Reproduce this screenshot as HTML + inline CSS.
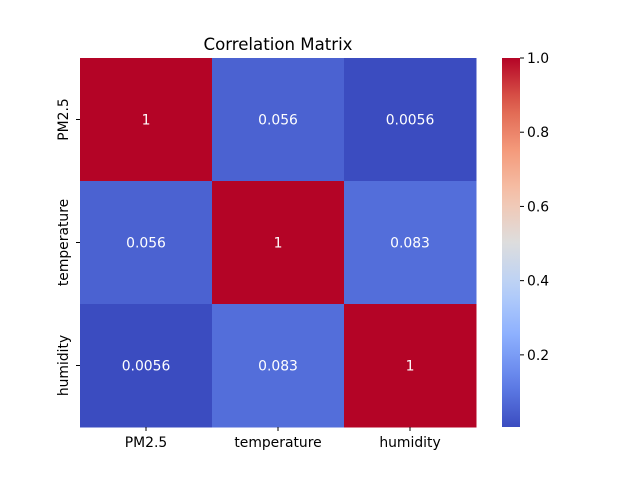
<!DOCTYPE html>
<html><head><meta charset="utf-8"><style>
body{margin:0;background:#fff;}
text{font-family:"DejaVu Sans","Liberation Sans",sans-serif;}
</style></head><body>
<svg id="chart" width="640" height="480" xmlns="http://www.w3.org/2000/svg">
<defs><linearGradient id="cbgrad" x1="0" y1="1" x2="0" y2="0"></linearGradient></defs>
<text x="278" y="50" font-size="16.6" text-anchor="middle">Correlation Matrix</text>
<g id="cells"></g><g id="xt"></g><g id="yt"></g><g id="cb"></g>
</svg>
<script>
const labels = ["PM2.5","temperature","humidity"];
const row0 = [1, 0.056, 0.0056];
const row1 = [0.056, 1, 0.083];
const row2 = [0.0056, 0.083, 1];
const annot0 = ["1","0.056","0.0056"];
const annot1 = ["0.056","1","0.083"];
const annot2 = ["0.0056","0.083","1"];
const cbTicks = [0.2,0.4,0.6,0.8,1.0];
const cbTickLabels = ["0.2","0.4","0.6","0.8","1.0"];
const vmin = 0.0056, vmax = 1;

const rows=[row0,row1,row2], annots=[annot0,annot1,annot2];
const NS="http://www.w3.org/2000/svg";
const X0=80,X1=476,Y0=58,Y1=427;
const cw=(X1-X0)/labels.length, ch=(Y1-Y0)/labels.length;
const stops=[[0,59,76,192],[0.125,98,130,234],[0.25,141,176,254],[0.375,184,208,249],[0.5,221,221,221],[0.625,245,196,173],[0.75,244,154,123],[0.875,222,96,77],[1,180,4,38]];
function cmap(v){let t=(v-vmin)/(vmax-vmin);t=Math.max(0,Math.min(1,t));
 for(let i=1;i<stops.length;i++){if(t<=stops[i][0]){const a=stops[i-1],b=stops[i],f=(t-a[0])/(b[0]-a[0]);
 return `rgb(${[1,2,3].map(k=>Math.round(a[k]+(b[k]-a[k])*f)).join(',')})`;}}return "rgb(180,4,38)";}
function mk(tag,attrs,parent){const e=document.createElementNS(NS,tag);for(const k in attrs)e.setAttribute(k,attrs[k]);parent.appendChild(e);return e;}
const cells=document.getElementById('cells');
rows.forEach((r,i)=>r.forEach((v,j)=>{
 const rc=mk('rect',{x:X0+j*cw,y:Y0+i*ch,width:cw+0.5,height:ch+0.5,fill:cmap(v)},cells);
 
 
 const t=mk('text',{x:X0+(j+0.5)*cw,y:Y0+(i+0.5)*ch+5,'font-size':13.9,'text-anchor':'middle',fill:'#fff'},cells);
 t.textContent=annots[i][j];
 
 
}));
const xt=document.getElementById('xt'),yt=document.getElementById('yt');
labels.forEach((l,i)=>{
 const x=X0+(i+0.5)*cw;
 mk('line',{x1:x,x2:x,y1:Y1,y2:Y1+4,stroke:'#000'},xt);
 const t=mk('text',{x:x,y:Y1+20,'font-size':13.9,'text-anchor':'middle'},xt);t.textContent=l;
 
 
 const y=Y0+(i+0.5)*ch;
 mk('line',{x1:X0-4,x2:X0,y1:y,y2:y,stroke:'#000'},yt);
 const u=mk('text',{x:0,y:0,'font-size':13.9,'text-anchor':'middle',transform:`translate(${X0-12},${y}) rotate(-90)`},yt);u.textContent=l;
 
 
});
const g=document.getElementById('cbgrad');
for(let k=0;k<=20;k++){const v=vmin+(vmax-vmin)*k/20;mk('stop',{offset:k/20,'stop-color':cmap(v)},g);}
const cb=document.getElementById('cb');
const CX0=502,CX1=520;
const bar=mk('rect',{x:CX0,y:Y0,width:CX1-CX0,height:Y1-Y0,fill:'url(#cbgrad)'},cb);


function cy(v){return Y1-(v-vmin)/(vmax-vmin)*(Y1-Y0);}
cbTicks.forEach((v,i)=>{const y=cy(v);
 mk('line',{x1:CX1,x2:CX1+4,y1:y,y2:y,stroke:'#000'},cb);
 const t=mk('text',{x:CX1+7,y:y+5,'font-size':13.9},cb);t.textContent=cbTickLabels[i];
 
 
});
</script>
</body></html>
